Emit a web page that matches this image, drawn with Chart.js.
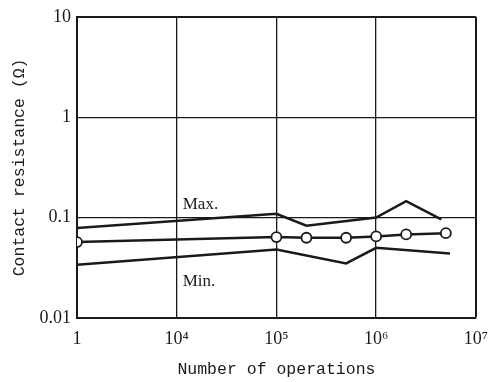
<!DOCTYPE html>
<html>
<head>
<meta charset="utf-8">
<script src="https://cdn.jsdelivr.net/npm/chart.js@4/dist/chart.umd.min.js"></script>
<style>
  html, body { margin: 0; padding: 0; background: #fff; }
  #wrap { width: 498px; height: 382px; }
</style>
</head>
<body>
<div id="wrap"><canvas id="c" width="498" height="382"></canvas></div>
<script>
// Contact resistance vs. number of switching operations
const meanOperations = [1, 1e5, 2e5, 5e5, 1e6, 2e6, 5e6];
const meanResistance = [0.057, 0.064, 0.063, 0.063, 0.065, 0.068, 0.070];

const maxOperations = [1, 1e5, 2e5, 1e6, 2e6, 4.5e6];
const maxResistance = [0.079, 0.109, 0.083, 0.100, 0.146, 0.096];

const minOperations = [1, 1e5, 5e5, 1e6, 5.5e6];
const minResistance = [0.034, 0.048, 0.035, 0.050, 0.044];

// x axis is broken between 1 and 10^4: each tick is one step apart
const xTickLabels = ['1', '10\u2074', '10\u2075', '10\u2076', '10\u2077'];
const yTickValues = [0.01, 0.1, 1, 10];
const yTickLabels = ['0.01', '0.1', '1', '10'];

// map an operation count onto the broken axis
function axisPos(n) {
  return n <= 1 ? 0 : Math.log10(n) - 3;
}
function toPoints(xs, ys) {
  return xs.map((n, i) => ({ x: axisPos(n), y: ys[i] }));
}

const INK = '#1a1a1a';
const SERIF = '"Liberation Serif", "DejaVu Serif", serif';
const MONO = '"Liberation Mono", "DejaVu Sans Mono", monospace';

const seriesLabels = {
  id: 'seriesLabels',
  afterDatasetsDraw(chart) {
    const { ctx, scales: { x, y } } = chart;
    ctx.save();
    ctx.fillStyle = INK;
    ctx.font = '17px ' + SERIF;
    ctx.textAlign = 'left';
    ctx.textBaseline = 'middle';
    const lx = x.getPixelForValue(1) + 6;
    ctx.fillText('Max.', lx, y.getPixelForValue(0.134));
    ctx.fillText('Min.', lx, y.getPixelForValue(0.023));
    ctx.restore();
  }
};

const lineStyle = {
  borderColor: INK,
  borderWidth: 2.5,
  pointRadius: 0,
  tension: 0,
  fill: false
};

new Chart(document.getElementById('c'), {
  type: 'line',
  data: {
    datasets: [
      Object.assign({ label: 'Max.', data: toPoints(maxOperations, maxResistance) }, lineStyle),
      Object.assign({ label: 'Min.', data: toPoints(minOperations, minResistance) }, lineStyle),
      Object.assign({}, lineStyle, {
        label: 'Mean',
        data: toPoints(meanOperations, meanResistance),
        pointRadius: 5,
        pointBorderWidth: 1.8,
        pointBackgroundColor: '#fff',
        pointBorderColor: INK
      })
    ]
  },
  options: {
    responsive: false,
    animation: false,
    devicePixelRatio: 1,
    layout: { padding: { top: 14, right: 20, bottom: 0, left: 0 } },
    plugins: {
      legend: { display: false },
      tooltip: { enabled: false }
    },
    scales: {
      x: {
        type: 'linear',
        min: 0,
        max: 4,
        afterBuildTicks(scale) {
          scale.ticks = xTickLabels.map((_, i) => ({ value: i }));
        },
        afterFit(scale) { scale.height = 64; },
        ticks: {
          color: INK,
          font: { family: SERIF, size: 18 },
          padding: 10,
          maxRotation: 0,
          autoSkip: false,
          callback: (v, i) => xTickLabels[i]
        },
        grid: {
          color: INK,
          lineWidth: (c) => (c.tick && c.tick.value === 4 ? 2 : 1.3),
          drawTicks: false
        },
        border: { color: INK, width: 2 },
        title: {
          display: true,
          text: 'Number of operations',
          color: INK,
          font: { family: MONO, size: 16.5 },
          padding: { top: 0, bottom: 2 }
        }
      },
      y: {
        type: 'logarithmic',
        min: 0.01,
        max: 10,
        afterBuildTicks(scale) {
          scale.ticks = yTickValues.map(v => ({ value: v }));
        },
        afterFit(scale) { scale.width = 77; },
        ticks: {
          color: INK,
          font: { family: SERIF, size: 18 },
          padding: 6,
          autoSkip: false,
          callback: (v, i) => yTickLabels[i]
        },
        grid: {
          color: INK,
          lineWidth: (c) => (c.tick && c.tick.value === 10 ? 2 : 1.3),
          drawTicks: false
        },
        border: { color: INK, width: 2 },
        title: {
          display: true,
          text: 'Contact resistance (\u03A9)',
          color: INK,
          font: { family: MONO, size: 16.5 },
          padding: { top: 10, bottom: 0 }
        }
      }
    }
  },
  plugins: [seriesLabels]
});
</script>
</body>
</html>
